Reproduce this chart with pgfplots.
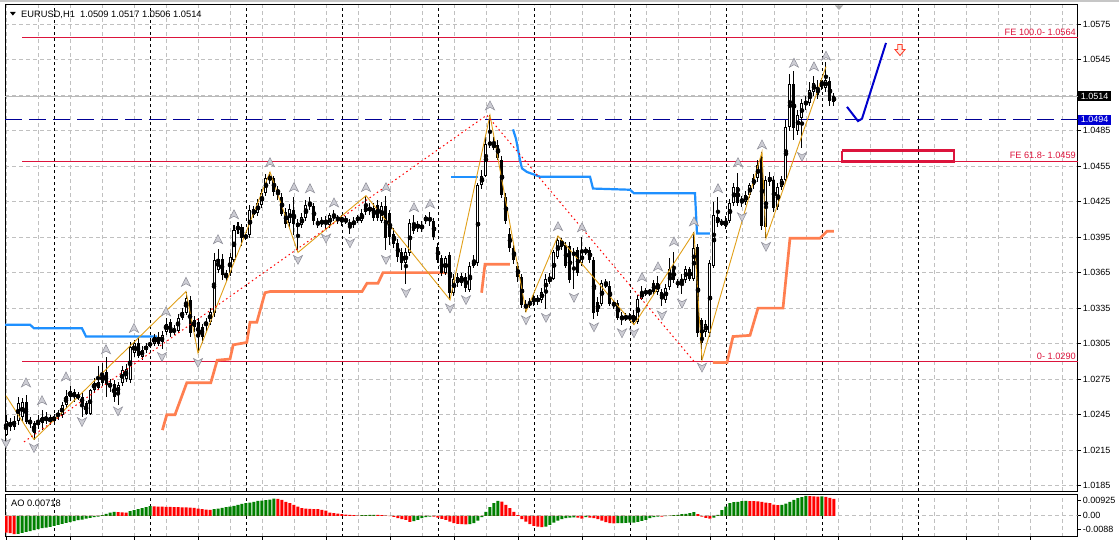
\documentclass[border=0pt]{standalone}
\usepackage{fontspec}
\setmainfont{Liberation Sans}
\usepackage{pgfplots}
\usepackage{pgfplotstable}
\pgfplotsset{compat=1.18}
\definecolor{crim}{RGB}{220,20,60}
\definecolor{navyl}{RGB}{0,0,150}
\definecolor{boxblue}{RGB}{0,0,210}
\definecolor{dodger}{RGB}{30,144,255}
\definecolor{coral}{RGB}{255,127,80}
\definecolor{zz}{RGB}{225,160,25}
\definecolor{gridg}{RGB}{192,192,192}
\definecolor{aog}{RGB}{0,128,0}
\definecolor{aor}{RGB}{255,0,0}
\definecolor{fracf}{RGB}{205,205,212}
\definecolor{fracd}{RGB}{140,140,150}
\definecolor{mblue}{RGB}{0,0,205}
\definecolor{arrred}{RGB}{255,60,40}
\definecolor{arrfill}{RGB}{255,236,230}

\pgfdeclareplotmark{fup}{%
  \pgfpathmoveto{\pgfqpoint{0pt}{4.8pt}}%
  \pgfpathlineto{\pgfqpoint{4.6pt}{-4.2pt}}%
  \pgfpathlineto{\pgfqpoint{0pt}{-1.6pt}}%
  \pgfpathlineto{\pgfqpoint{-4.6pt}{-4.2pt}}%
  \pgfpathclose\pgfusepathqfillstroke}
\pgfdeclareplotmark{fdown}{%
  \pgfpathmoveto{\pgfqpoint{0pt}{-4.8pt}}%
  \pgfpathlineto{\pgfqpoint{4.6pt}{4.2pt}}%
  \pgfpathlineto{\pgfqpoint{0pt}{1.6pt}}%
  \pgfpathlineto{\pgfqpoint{-4.6pt}{4.2pt}}%
  \pgfpathclose\pgfusepathqfillstroke}
\pgfdeclareplotmark{hdown}{%
  \pgfpathmoveto{\pgfqpoint{-2.2pt}{5.5pt}}%
  \pgfpathlineto{\pgfqpoint{2.2pt}{5.5pt}}%
  \pgfpathlineto{\pgfqpoint{2.2pt}{0.5pt}}%
  \pgfpathlineto{\pgfqpoint{5pt}{0.5pt}}%
  \pgfpathlineto{\pgfqpoint{0pt}{-5.5pt}}%
  \pgfpathlineto{\pgfqpoint{-5pt}{0.5pt}}%
  \pgfpathlineto{\pgfqpoint{-2.2pt}{0.5pt}}%
  \pgfpathclose\pgfusepathqfillstroke}

\pgfplotstableread{
b o h l c
0 1.0228 1.0245 1.0227 1.0240
1 1.0239 1.0242 1.0231 1.0235
2 1.0235 1.0244 1.0232 1.0240
3 1.0240 1.0260 1.0236 1.0255
4 1.0243 1.0259 1.0240 1.0256
5 1.0256 1.0262 1.0237 1.0239
6 1.0240 1.0243 1.0234 1.0238
7 1.0238 1.0240 1.0224 1.0230
8 1.0236 1.0245 1.0233 1.0240
9 1.0238 1.0249 1.0232 1.0243
10 1.0240 1.0247 1.0237 1.0243
11 1.0243 1.0245 1.0236 1.0239
12 1.0240 1.0246 1.0238 1.0243
13 1.0244 1.0249 1.0241 1.0246
14 1.0245 1.0256 1.0242 1.0253
15 1.0253 1.0266 1.0251 1.0261
16 1.0260 1.0269 1.0257 1.0265
17 1.0264 1.0267 1.0256 1.0260
18 1.0261 1.0264 1.0257 1.0260
19 1.0260 1.0263 1.0243 1.0254
20 1.0255 1.0257 1.0245 1.0246
21 1.0246 1.0267 1.0245 1.0266
22 1.0266 1.0276 1.0263 1.0272
23 1.0268 1.0286 1.0266 1.0273
24 1.0280 1.0289 1.0269 1.0272
25 1.0281 1.0294 1.0260 1.0270
26 1.0272 1.0275 1.0264 1.0268
27 1.0271 1.0274 1.0256 1.0260
28 1.0263 1.0273 1.0253 1.0270
29 1.0272 1.0286 1.0269 1.0283
30 1.0275 1.0288 1.0273 1.0284
31 1.0274 1.0306 1.0272 1.0302
32 1.0297 1.0308 1.0294 1.0306
33 1.0306 1.0310 1.0293 1.0295
34 1.0294 1.0303 1.0291 1.0300
35 1.0300 1.0306 1.0297 1.0303
36 1.0304 1.0308 1.0301 1.0305
37 1.0305 1.0313 1.0303 1.0311
38 1.0311 1.0315 1.0303 1.0305
39 1.0306 1.0316 1.0301 1.0312
40 1.0315 1.0327 1.0312 1.0322
41 1.0323 1.0326 1.0311 1.0314
42 1.0317 1.0321 1.0312 1.0315
43 1.0316 1.0330 1.0314 1.0327
44 1.0327 1.0335 1.0325 1.0332
45 1.0331 1.0349 1.0329 1.0344
46 1.0342 1.0345 1.0311 1.0314
47 1.0325 1.0328 1.0315 1.0319
48 1.0323 1.0327 1.0297 1.0311
49 1.0319 1.0322 1.0306 1.0311
50 1.0321 1.0327 1.0316 1.0323
51 1.0323 1.0335 1.0321 1.0332
52 1.0331 1.0382 1.0328 1.0376
53 1.0367 1.0385 1.0365 1.0377
54 1.0377 1.0381 1.0359 1.0363
55 1.0361 1.0367 1.0357 1.0365
56 1.0365 1.0382 1.0362 1.0378
57 1.0376 1.0405 1.0374 1.0401
58 1.0401 1.0408 1.0398 1.0404
59 1.0404 1.0406 1.0388 1.0394
60 1.0395 1.0398 1.0393 1.0396
61 1.0397 1.0422 1.0394 1.0418
62 1.0419 1.0421 1.0411 1.0414
63 1.0415 1.0427 1.0413 1.0424
64 1.0422 1.0436 1.0420 1.0432
65 1.0432 1.0448 1.0430 1.0445
66 1.0446 1.0450 1.0440 1.0443
67 1.0445 1.0447 1.0430 1.0433
68 1.0435 1.0438 1.0426 1.0432
69 1.0429 1.0432 1.0413 1.0415
70 1.0416 1.0420 1.0403 1.0406
71 1.0407 1.0423 1.0404 1.0419
72 1.0418 1.0429 1.0397 1.0406
73 1.0404 1.0410 1.0382 1.0407
74 1.0405 1.0415 1.0403 1.0412
75 1.0411 1.0426 1.0409 1.0422
76 1.0424 1.0429 1.0418 1.0421
77 1.0421 1.0424 1.0405 1.0409
78 1.0408 1.0411 1.0403 1.0405
79 1.0406 1.0412 1.0404 1.0409
80 1.0407 1.0413 1.0401 1.0409
81 1.0405 1.0415 1.0403 1.0414
82 1.0411 1.0418 1.0409 1.0414
83 1.0412 1.0414 1.0406 1.0409
84 1.0412 1.0414 1.0404 1.0408
85 1.0409 1.0413 1.0406 1.0409
86 1.0407 1.0410 1.0398 1.0405
87 1.0405 1.0412 1.0403 1.0409
88 1.0412 1.0414 1.0407 1.0409
89 1.0409 1.0419 1.0407 1.0415
90 1.0416 1.0430 1.0414 1.0421
91 1.0420 1.0424 1.0414 1.0417
92 1.0420 1.0424 1.0409 1.0411
93 1.0422 1.0426 1.0409 1.0411
94 1.0409 1.0425 1.0407 1.0421
95 1.0421 1.0430 1.0384 1.0394
96 1.0415 1.0418 1.0388 1.0395
97 1.0398 1.0403 1.0386 1.0389
98 1.0390 1.0393 1.0374 1.0378
99 1.0382 1.0386 1.0367 1.0373
100 1.0373 1.0386 1.0355 1.0382
101 1.0382 1.0410 1.0379 1.0407
102 1.0407 1.0414 1.0398 1.0400
103 1.0406 1.0409 1.0399 1.0403
104 1.0402 1.0409 1.0399 1.0405
105 1.0409 1.0414 1.0406 1.0412
106 1.0411 1.0416 1.0404 1.0409
107 1.0409 1.0411 1.0393 1.0395
108 1.0387 1.0390 1.0373 1.0376
109 1.0377 1.0380 1.0362 1.0365
110 1.0365 1.0379 1.0363 1.0377
111 1.0380 1.0382 1.0342 1.0348
112 1.0348 1.0364 1.0345 1.0360
113 1.0356 1.0365 1.0353 1.0361
114 1.0356 1.0365 1.0354 1.0362
115 1.0361 1.0365 1.0349 1.0352
116 1.0350 1.0374 1.0349 1.0371
117 1.0371 1.0380 1.0369 1.0375
118 1.0373 1.0441 1.0371 1.0439
119 1.0439 1.0452 1.0436 1.0447
120 1.0447 1.0481 1.0446 1.0474
121 1.0473 1.0498 1.0470 1.0475
122 1.0473 1.0480 1.0469 1.0471
123 1.0473 1.0477 1.0460 1.0462
124 1.0460 1.0464 1.0428 1.0431
125 1.0429 1.0432 1.0406 1.0409
126 1.0398 1.0403 1.0382 1.0386
127 1.0386 1.0388 1.0372 1.0376
128 1.0371 1.0374 1.0357 1.0361
129 1.0361 1.0364 1.0335 1.0338
130 1.0338 1.0342 1.0332 1.0335
131 1.0338 1.0344 1.0335 1.0340
132 1.0340 1.0347 1.0337 1.0344
133 1.0343 1.0346 1.0338 1.0341
134 1.0342 1.0352 1.0339 1.0349
135 1.0349 1.0364 1.0334 1.0360
136 1.0357 1.0365 1.0355 1.0361
137 1.0360 1.0384 1.0359 1.0382
138 1.0378 1.0396 1.0377 1.0393
139 1.0393 1.0394 1.0384 1.0387
140 1.0388 1.0391 1.0369 1.0371
141 1.0388 1.0391 1.0356 1.0359
142 1.0380 1.0386 1.0351 1.0382
143 1.0384 1.0387 1.0362 1.0365
144 1.0373 1.0395 1.0371 1.0382
145 1.0382 1.0387 1.0380 1.0384
146 1.0384 1.0387 1.0373 1.0376
147 1.0376 1.0378 1.0326 1.0331
148 1.0340 1.0344 1.0328 1.0332
149 1.0339 1.0359 1.0337 1.0356
150 1.0354 1.0360 1.0352 1.0356
151 1.0354 1.0358 1.0337 1.0339
152 1.0339 1.0342 1.0334 1.0338
153 1.0339 1.0342 1.0325 1.0327
154 1.0326 1.0332 1.0321 1.0328
155 1.0328 1.0331 1.0324 1.0326
156 1.0327 1.0331 1.0324 1.0327
157 1.0329 1.0333 1.0321 1.0323
158 1.0323 1.0346 1.0322 1.0343
159 1.0343 1.0354 1.0342 1.0349
160 1.0348 1.0352 1.0345 1.0349
161 1.0349 1.0351 1.0345 1.0349
162 1.0356 1.0359 1.0346 1.0349
163 1.0349 1.0362 1.0346 1.0356
164 1.0349 1.0351 1.0337 1.0343
165 1.0342 1.0355 1.0339 1.0352
166 1.0353 1.0377 1.0350 1.0368
167 1.0368 1.0382 1.0356 1.0359
168 1.0357 1.0360 1.0352 1.0355
169 1.0356 1.0364 1.0347 1.0360
170 1.0359 1.0371 1.0356 1.0368
171 1.0368 1.0370 1.0358 1.0360
172 1.0360 1.0399 1.0358 1.0386
173 1.0387 1.0389 1.0311 1.0314
174 1.0325 1.0327 1.0291 1.0306
175 1.0315 1.0325 1.0311 1.0322
176 1.0314 1.0376 1.0311 1.0373
177 1.0371 1.0425 1.0369 1.0414
178 1.0412 1.0429 1.0404 1.0407
179 1.0407 1.0410 1.0404 1.0407
180 1.0404 1.0413 1.0402 1.0409
181 1.0409 1.0427 1.0407 1.0424
182 1.0424 1.0441 1.0421 1.0437
183 1.0437 1.0449 1.0421 1.0424
184 1.0426 1.0430 1.0420 1.0426
185 1.0425 1.0434 1.0422 1.0431
186 1.0431 1.0441 1.0428 1.0439
187 1.0439 1.0448 1.0436 1.0445
188 1.0445 1.0460 1.0442 1.0456
189 1.0463 1.0467 1.0401 1.0404
190 1.0404 1.0447 1.0394 1.0443
191 1.0446 1.0450 1.0438 1.0442
192 1.0443 1.0447 1.0416 1.0420
193 1.0420 1.0441 1.0418 1.0437
194 1.0437 1.0447 1.0435 1.0444
195 1.0443 1.0494 1.0441 1.0488
196 1.0488 1.0533 1.0485 1.0524
197 1.0524 1.0535 1.0477 1.0487
198 1.0485 1.0502 1.0481 1.0498
199 1.0496 1.0512 1.0470 1.0508
200 1.0508 1.0514 1.0502 1.0509
201 1.0508 1.0526 1.0506 1.0519
202 1.0518 1.0531 1.0514 1.0525
203 1.0522 1.0528 1.0512 1.0515
204 1.0522 1.0529 1.0519 1.0528
205 1.0521 1.0543 1.0518 1.0528
206 1.0527 1.0530 1.0506 1.0510
207 1.0509 1.0517 1.0506 1.0514
}\candles

\pgfplotstableread{
b ao up
0 -0.00705 0
1 -0.00733 0
2 -0.00775 0
3 -0.00761 1
4 -0.00719 1
5 -0.00676 1
6 -0.00648 1
7 -0.00606 1
8 -0.00564 1
9 -0.00521 1
10 -0.00493 1
11 -0.00465 1
12 -0.00423 1
13 -0.00380 1
14 -0.00338 1
15 -0.00296 1
16 -0.00268 1
17 -0.00225 1
18 -0.00183 1
19 -0.00155 1
20 -0.00113 1
21 -0.00085 1
22 -0.00056 1
23 -0.00028 1
24 0.00028 1
25 0.00085 1
26 0.00141 1
27 0.00169 1
28 0.00155 0
29 0.00148 0
30 0.00141 0
31 0.00197 1
32 0.00240 1
33 0.00282 1
34 0.00324 1
35 0.00366 1
36 0.00409 1
37 0.00402 0
38 0.00395 0
39 0.00387 0
40 0.00380 0
41 0.00378 0
42 0.00373 0
43 0.00366 0
44 0.00364 0
45 0.00359 0
46 0.00352 0
47 0.00338 0
48 0.00310 0
49 0.00282 0
50 0.00268 0
51 0.00254 0
52 0.00282 1
53 0.00310 1
54 0.00338 1
55 0.00366 1
56 0.00395 1
57 0.00423 1
58 0.00465 1
59 0.00507 1
60 0.00535 1
61 0.00564 1
62 0.00592 1
63 0.00634 1
64 0.00648 1
65 0.00662 1
66 0.00690 1
67 0.00733 1
68 0.00719 0
69 0.00676 0
70 0.00592 0
71 0.00535 0
72 0.00465 0
73 0.00395 0
74 0.00324 0
75 0.00310 0
76 0.00296 0
77 0.00289 0
78 0.00282 0
79 0.00254 0
80 0.00225 0
81 0.00141 0
82 0.00113 0
83 0.00099 0
84 0.00070 0
85 0.00056 0
86 0.00042 0
87 0.00028 0
88 0.00014 0
89 0.00028 1
90 0.00035 1
91 0.00042 1
92 0.00045 1
93 0.00042 0
94 0.00028 0
95 0.00007 0
96 -0.00014 0
97 -0.00042 0
98 -0.00099 0
99 -0.00141 0
100 -0.00169 0
101 -0.00254 0
102 -0.00225 1
103 -0.00169 1
104 -0.00099 1
105 -0.00056 1
106 -0.00028 1
107 -0.00035 0
108 -0.00070 0
109 -0.00127 0
110 -0.00169 0
111 -0.00240 0
112 -0.00310 0
113 -0.00338 0
114 -0.00352 0
115 -0.00359 0
116 -0.00352 1
117 -0.00310 1
118 -0.00197 1
119 -0.00056 1
120 0.00169 1
121 0.00366 1
122 0.00535 1
123 0.00634 1
124 0.00606 0
125 0.00465 0
126 0.00324 0
127 0.00169 0
128 0.00028 0
129 -0.00141 0
130 -0.00240 0
131 -0.00352 0
132 -0.00423 0
133 -0.00451 0
134 -0.00479 0
135 -0.00451 1
136 -0.00380 1
137 -0.00282 1
138 -0.00197 1
139 -0.00141 1
140 -0.00099 1
141 -0.00070 1
142 -0.00063 1
143 -0.00070 0
144 -0.00113 0
145 -0.00056 1
146 -0.00070 0
147 -0.00099 0
148 -0.00141 0
149 -0.00197 0
150 -0.00268 0
151 -0.00310 0
152 -0.00317 0
153 -0.00310 1
154 -0.00303 1
155 -0.00296 1
156 -0.00289 1
157 -0.00282 1
158 -0.00254 1
159 -0.00211 1
160 -0.00169 1
161 -0.00099 1
162 -0.00056 1
163 -0.00028 1
164 -0.00035 0
165 -0.00014 1
166 0.00007 1
167 0.00028 1
168 0.00042 1
169 0.00070 1
170 0.00085 1
171 0.00113 1
172 0.00155 1
173 0.00070 0
174 -0.00028 0
175 -0.00085 0
176 -0.00113 0
177 -0.00070 1
178 0.00042 1
179 0.00240 1
180 0.00395 1
181 0.00535 1
182 0.00578 1
183 0.00592 1
184 0.00620 1
185 0.00634 1
186 0.00627 0
187 0.00620 0
188 0.00613 0
189 0.00592 0
190 0.00564 0
191 0.00535 0
192 0.00479 0
193 0.00451 0
194 0.00465 1
195 0.00521 1
196 0.00592 1
197 0.00676 1
198 0.00747 1
199 0.00789 1
200 0.00845 1
201 0.00831 0
202 0.00824 0
203 0.00817 0
204 0.00824 1
205 0.00803 0
206 0.00761 0
207 0.00718 0
}\aotab

\begin{document}
\begin{tikzpicture}
\useasboundingbox (0pt,0pt) rectangle (1119pt,-540pt);
\fill[white] (0pt,0pt) rectangle (1119pt,-540pt);
\draw[gray!45, line width=1.5pt] (0pt,-1pt) -- (1119pt,-1pt);

\begin{axis}[
  scale only axis, width=1072.7pt, height=486pt,
  anchor=north west, at={(5pt,-5pt)},
  xmin=-0.25, xmax=267.925, ymin=1.018053, ymax=1.059105,
  clip=false,
  scaled x ticks=false, scaled y ticks=false,
  axis line style={black, line width=1pt},
  tick align=outside, major tick length=3pt,
  xtick={0.175,8.175,...,264.2}, xticklabels={},
  major x tick style={draw=none},
  ytick={1.0185,1.0215,1.0245,1.0275,1.0305,1.0335,1.0365,1.0395,1.0425,1.0455,1.0485,1.0515,1.0545,1.0575},
  yticklabels={1.0185,1.0215,1.0245,1.0275,1.0305,1.0335,1.0365,1.0395,1.0425,1.0455,1.0485,1.0515,1.0545,1.0575},
  ytick pos=right, yticklabel pos=right,
  major y tick style={black, line width=0.8pt},
  yticklabel style={font=\fontsize{9}{10}\selectfont, anchor=west, inner sep=0pt, xshift=2pt},
  xmajorgrids, ymajorgrids,
  major grid style={gridg, line width=0.8pt, dash pattern=on 4pt off 3pt},
  extra x ticks={12,36,...,228}, extra x tick labels={},
  extra x tick style={grid=major, major grid style={black, line width=0.8pt, dash pattern=on 3pt off 3pt}},
]
% horizontal objects
\addplot[gray!55, line width=1pt] coordinates {(-0.25,1.0514) (267.925,1.0514)};
\addplot[crim, line width=1pt] coordinates {(4,1.0564) (267.925,1.0564)};
\addplot[crim, line width=1pt] coordinates {(4,1.0459) (267.925,1.0459)};
\addplot[crim, line width=1pt] coordinates {(4,1.0290) (267.925,1.0290)};
\addplot[navyl, line width=1pt, dash pattern=on 17pt off 7pt] coordinates {(-0.25,1.0494) (267.925,1.0494)};

% stop lines
\addplot[dodger, line width=2.2pt] coordinates {(-0.25,1.0321)(6,1.0321)(7,1.0318)(19,1.0318)(20,1.0311)(37.75,1.0311)};
\addplot[dodger, line width=2.2pt] coordinates {(111.25,1.0446)(118,1.0446)};
\addplot[dodger, line width=2.2pt] coordinates {(126.75,1.0486)(127.5,1.0478)(128.5,1.0460)(129,1.0453)(130.25,1.0450)(133.5,1.0446)(146,1.0446)(146.75,1.0436)(156,1.0435)(157,1.0432)(172.25,1.0432)(172.75,1.0398)(176,1.0398)};
\addplot[coral, line width=2.7pt] coordinates {(39.1,1.0232)(40.2,1.0245)(42.25,1.0245)(45.2,1.0272)(51.2,1.0272)(52.8,1.0291)(56,1.0292)(56.8,1.0304)(60.2,1.0306)(61,1.0323)(62.7,1.0323)(64.75,1.0348)(66,1.0349)(89,1.0349)(90.25,1.0356)(93,1.0356)(94.25,1.0365)(110.25,1.0365)};
\addplot[coral, line width=2.7pt] coordinates {(118.9,1.0348)(119.75,1.0372)(126,1.0372)};
\addplot[coral, line width=2.7pt] coordinates {(176.75,1.0289)(180.25,1.0289)(181.75,1.0311)(186,1.0312)(188,1.0335)(194.25,1.0335)(196,1.0394)(203.5,1.0394)(205.25,1.0400)(207,1.0400)};

% candles: wicks, bodies, white interiors
\addplot[only marks, mark=none, error bars/.cd, y dir=both, y explicit, error mark=none,
  error bar style={black, line width=1pt}]
  table[x=b, y expr={(\thisrow{h}+\thisrow{l})/2}, y error expr={(\thisrow{h}-\thisrow{l})/2}] {\candles};
\addplot[only marks, mark=none, error bars/.cd, y dir=both, y explicit, error mark=none,
  error bar style={black, line width=3pt}]
  table[x=b, y expr={(\thisrow{o}+\thisrow{c})/2}, y error expr={max(abs(\thisrow{c}-\thisrow{o})/2,0.00005)}] {\candles};
\addplot[only marks, mark=none, error bars/.cd, y dir=both, y explicit, error mark=none,
  error bar style={white, line width=1pt}]
  table[x=b, y expr={(\thisrow{o}+\thisrow{c})/2}, y error expr={max((\thisrow{c}-\thisrow{o})/2-0.000085,0)}] {\candles};

% zigzags
\addplot[zz, line width=0.9pt] coordinates {(0,1.0261)(7,1.0224)(45,1.0349)(48,1.0297)(66,1.0450)(73,1.0382)(90,1.0430)(111,1.0342)(121,1.0498)(130,1.0332)(138,1.0396)(157,1.0321)(172,1.0399)(174,1.0291)(189,1.0467)(190,1.0394)(205,1.0539)};
\addplot[red, line width=1pt, dash pattern=on 1.5pt off 3pt] coordinates {(4.5,1.0222)(120.2,1.0498)(172.25,1.0289)};

% fractals
\addplot[only marks, mark=fup, mark options={fill=fracf, draw=fracd, line width=0.5pt}] coordinates {
(5,1.0272)(9,1.0257)(15,1.0277)(25,1.0300)(32,1.0318)(40,1.0332)(45,1.0357)(53,1.0393)(57,1.0414)(66,1.0458)(72,1.0437)(76,1.0436)(82,1.0424)(90,1.0437)(95,1.0437)(102,1.0420)(106,1.0423)(121,1.0506)(138,1.0404)(144,1.0403)(159,1.0361)(163,1.0370)(167,1.0391)(172,1.0408)(178,1.0436)(183,1.0458)(189,1.0473)(197,1.0542)(202,1.0539)(205,1.0548)};
\addplot[only marks, mark=fdown, mark options={fill=fracf, draw=fracd, line width=0.5pt}] coordinates {
(0,1.0221)(7,1.0217)(19,1.0239)(28,1.0248)(39,1.0294)(48,1.0289)(73,1.0376)(80,1.0394)(86,1.0390)(95,1.0376)(100,1.0348)(111,1.0335)(115,1.0342)(130,1.0325)(135,1.0327)(142,1.0344)(147,1.0319)(154,1.0314)(157,1.0314)(164,1.0329)(169,1.0339)(174,1.0285)(184,1.0412)(190,1.0387)(199,1.0463)};

% drawn objects
\addplot[crim, line width=2.5pt] coordinates {(209,1.0468)(237,1.0468)(237,1.0459)(209,1.0459)(209,1.0468)};
\addplot[mblue, line width=2pt] coordinates {(210.25,1.0505)(213,1.0493)(214,1.0495)(220,1.0559)};
\addplot[only marks, mark=hdown, mark options={draw=arrred, fill=arrfill, line width=0.9pt}] coordinates {(223.5,1.0553)};

% price boxes and level labels
\node[fill=black, text=white, anchor=west, inner xsep=3pt, inner ysep=0pt, minimum height=10.5pt, font=\fontsize{9}{10}\selectfont] at (axis cs:267.925,1.0514) {1.0514};
\node[fill=boxblue, text=white, anchor=west, inner xsep=3pt, inner ysep=0pt, minimum height=10.5pt, font=\fontsize{9}{10}\selectfont] at (axis cs:267.925,1.0494) {1.0494};
\node[anchor=base east, inner sep=0pt, text=crim, font=\fontsize{9.2}{10}\selectfont, yshift=2pt] at (axis cs:267.5,1.0564) {FE 100.0- 1.0564};
\node[anchor=base east, inner sep=0pt, text=crim, font=\fontsize{9.2}{10}\selectfont, yshift=2.4pt] at (axis cs:267.5,1.0459) {FE 61.8- 1.0459};
\node[anchor=base east, inner sep=0pt, text=crim, font=\fontsize{9.2}{10}\selectfont, yshift=2.3pt] at (axis cs:267.5,1.0290) {0- 1.0290};
\end{axis}

\begin{axis}[
  scale only axis, width=1072.7pt, height=42.7pt,
  anchor=north west, at={(5pt,-494pt)},
  xmin=-0.25, xmax=267.925, ymin=-0.0088, ymax=0.00925,
  scaled x ticks=false, scaled y ticks=false,
  axis line style={black, line width=1pt},
  tick align=outside, major tick length=3pt,
  xtick={0.1,16.1,...,256.2}, xticklabels={}, xtick pos=bottom,
  major x tick style={black, line width=0.8pt},
  minor xtick={8.175,24.175,...,264.2}, minor tick length=0pt,
  xmajorgrids, xminorgrids,
  major grid style={gridg, line width=0.8pt, dash pattern=on 4pt off 3pt},
  minor grid style={gridg, line width=0.8pt, dash pattern=on 4pt off 3pt},
  extra x ticks={12,36,...,228}, extra x tick labels={},
  extra x tick style={grid=major, major tick length=0pt, major grid style={black, line width=0.8pt, dash pattern=on 3pt off 3pt}},
  ytick={-0.00554,0,0.00672}, yticklabels={-0.0088,0.00,0.00925},
  ytick pos=right, yticklabel pos=right,
  major y tick style={black, line width=0.8pt},
  yticklabel style={font=\fontsize{9}{10}\selectfont, anchor=west, inner sep=0pt, xshift=2pt},
]
\addplot[gridg, line width=0.8pt, dash pattern=on 4pt off 3pt] coordinates {(-0.25,0)(267.925,0)};
\addplot[ybar, bar width=3pt, bar shift=0pt, fill=aog, draw=none] table[x=b, y expr={\thisrow{up}*\thisrow{ao}}] {\aotab};
\addplot[ybar, bar width=3pt, bar shift=0pt, fill=aor, draw=none] table[x=b, y expr={(1-\thisrow{up})*\thisrow{ao}}] {\aotab};
\end{axis}

% title and indicator label
\fill[black] (10pt,-12pt) -- (15.7pt,-12pt) -- (12.85pt,-15.6pt) -- cycle;
\node[anchor=base west, inner sep=0pt, font=\fontsize{9.3}{10}\selectfont] at (21pt,-17.3pt) {EURUSD,H1\ \ 1.0509 1.0517 1.0506 1.0514};
\node[anchor=base west, inner sep=0pt, font=\fontsize{9.3}{10}\selectfont] at (11pt,-506.3pt) {AO 0.00718};
\fill[gray!65] (835pt,-5.5pt) -- (843pt,-5.5pt) -- (839pt,-10pt) -- cycle;
\end{tikzpicture}
\end{document}
